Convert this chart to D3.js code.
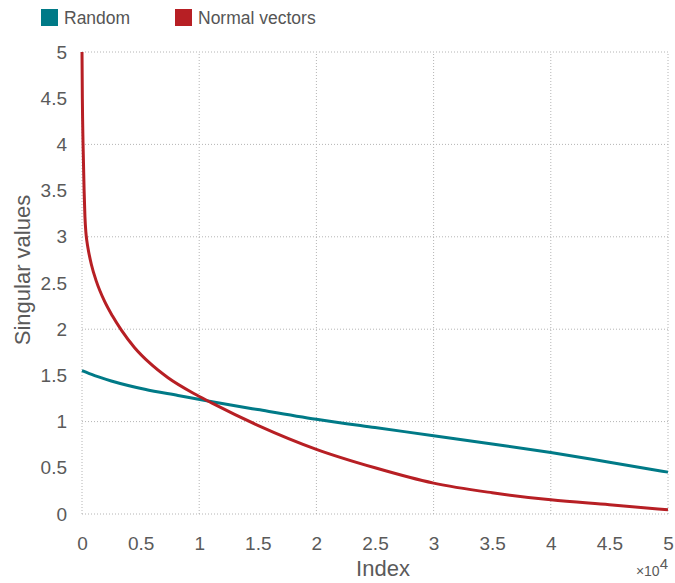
<!DOCTYPE html>
<html>
<head>
<meta charset="utf-8">
<style>
body { margin: 0; background: #fff; font-family: "Liberation Sans", Arial, Helvetica, sans-serif; }
.grid line { stroke: #b4b4b4; stroke-width: 1; stroke-dasharray: 1,2; }
.tick text { fill: #5a5a5a; font-size: 19px; }
.series { fill: none; stroke-width: 3; }
</style>
<script src="https://d3js.org/d3.v7.min.js"></script>
</head>
<body>
<script>
// values
var randomIdx  = [0, 1080, 2500, 5350, 8190, 11100, 15000, 20000, 25000, 30000, 35000, 40000, 45000, 50000];
var randomVals = [1.551, 1.497, 1.44, 1.35, 1.283, 1.215, 1.13, 1.025, 0.935, 0.848, 0.758, 0.665, 0.56, 0.453];

var normalIdx  = [0, 30, 90, 180, 250, 330, 420, 550, 800, 1220, 1930, 2590, 3360, 4490, 5770, 7340, 9750, 11100, 15000, 20000, 25000, 30000, 35000, 40000, 45000, 50000];
var normalVals = [5, 4.5, 4.0, 3.5, 3.22, 3.05, 2.95, 2.85, 2.70, 2.52, 2.30, 2.145, 1.99, 1.80, 1.635, 1.475, 1.29, 1.20, 0.96, 0.70, 0.50, 0.334, 0.23, 0.153, 0.10, 0.045];

var xTicks = [0, 5000, 10000, 15000, 20000, 25000, 30000, 35000, 40000, 45000, 50000];
var yTicks = [0, 0.5, 1, 1.5, 2, 2.5, 3, 3.5, 4, 4.5, 5];
var xGrid = [0, 10000, 20000, 30000, 40000, 50000];
var yGrid = [0, 1, 2, 3, 4, 5];

var series = [
  {name: "Random", color: "#007a87", idx: randomIdx, vals: randomVals},
  {name: "Normal vectors", color: "#b71f24", idx: normalIdx, vals: normalVals}
];

var width = 675, height = 583;
var x = d3.scaleLinear().domain([0, 50000]).range([82, 668]);
var y = d3.scaleLinear().domain([0, 5]).range([514, 52]);

var svg = d3.select("body").append("svg")
    .attr("width", width)
    .attr("height", height);

// grid
var grid = svg.append("g").attr("class", "grid");
grid.selectAll(".gx").data(xGrid).enter().append("line")
    .attr("x1", function(d) { return x(d); }).attr("x2", function(d) { return x(d); })
    .attr("y1", y(0)).attr("y2", y(5));
grid.selectAll(".gy").data(yGrid).enter().append("line")
    .attr("y1", function(d) { return y(d); }).attr("y2", function(d) { return y(d); })
    .attr("x1", x(0)).attr("x2", x(50000));

// axes (labels only)
svg.append("g")
    .attr("transform", "translate(0," + 514 + ")")
    .call(d3.axisBottom(x).tickValues(xTicks).tickSize(0).tickPadding(23)
      .tickFormat(function(d) { return d3.format("~g")(d / 10000); }))
    .call(function(g) { g.select(".domain").remove(); });

svg.append("g")
    .attr("transform", "translate(" + 67 + ",0)")
    .call(d3.axisLeft(y).tickValues(yTicks).tickSize(0).tickPadding(0)
      .tickFormat(d3.format("~g")))
    .call(function(g) { g.select(".domain").remove(); });

// lines
var line = d3.line()
    .curve(d3.curveMonotoneX)
    .x(function(d) { return x(d[0]); })
    .y(function(d) { return y(d[1]); });

svg.selectAll(".series").data(series).enter().append("path")
    .attr("class", "series")
    .attr("stroke", function(d) { return d.color; })
    .attr("d", function(d) { return line(d3.zip(d.idx, d.vals)); });

// axis titles
svg.append("text")
    .attr("x", 383).attr("y", 576)
    .attr("text-anchor", "middle")
    .attr("fill", "#5a5a5a").style("font-size", "22px")
    .text("Index");

svg.append("text")
    .attr("transform", "translate(30,270) rotate(-90)")
    .attr("text-anchor", "middle")
    .attr("fill", "#5a5a5a").style("font-size", "22px")
    .text("Singular values");

var exp = svg.append("text")
    .attr("x", 668).attr("y", 576)
    .attr("text-anchor", "end")
    .attr("fill", "#5a5a5a").style("font-size", "14px");
exp.append("tspan").text("\u00d710");
exp.append("tspan").attr("dy", -7).style("font-size", "15px").text("4");

// legend
var leg = svg.selectAll(".legend").data(series).enter().append("g")
    .attr("transform", function(d, i) { return "translate(" + [41, 175][i] + ",9)"; });
leg.append("rect").attr("width", 17).attr("height", 17)
    .attr("fill", function(d) { return d.color; });
leg.append("text").attr("x", 23).attr("y", 14.5)
    .attr("fill", "#555").style("font-size", "17.5px")
    .text(function(d) { return d.name; });
</script>
</body>
</html>
